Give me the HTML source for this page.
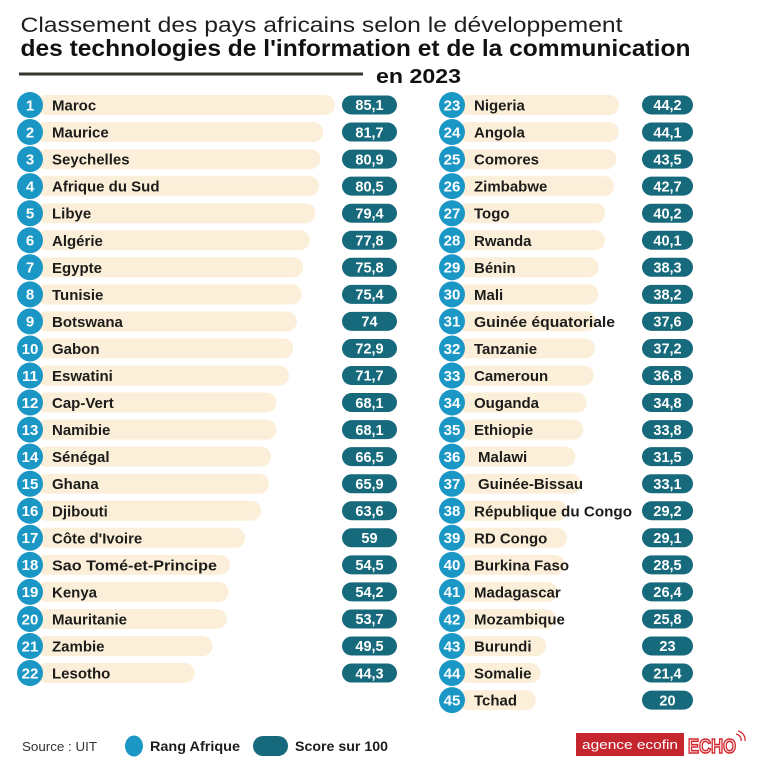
<!DOCTYPE html>
<html><head><meta charset="utf-8"><style>
html,body{margin:0;padding:0;background:#fff;}
svg{display:block;font-family:"Liberation Sans",Arial,sans-serif;}
.b{fill:#fcefd9}
.c{fill:#1b97c6}
.p{fill:#166a7b}
.r{fill:#fff;font-weight:bold;font-size:15px;text-anchor:middle}
.n{fill:#1c1c1a;font-weight:bold;font-size:15px}
.s{fill:#fff;font-weight:bold;font-size:14.5px;text-anchor:middle}
</style></head><body>
<svg width="768" height="768" viewBox="0 0 768 768" xmlns="http://www.w3.org/2000/svg">
<rect width="768" height="768" fill="#fff"/>
<text x="20.5" y="32" font-size="21.5" fill="#1e1e1e" textLength="602" lengthAdjust="spacingAndGlyphs">Classement des pays africains selon le développement</text>
<text x="20.5" y="56" font-size="23.5" font-weight="bold" fill="#111" textLength="670" lengthAdjust="spacingAndGlyphs">des technologies de l'information et de la communication</text>
<rect x="19" y="72.5" width="344" height="3" fill="#35352e"/>
<text x="376" y="83" font-size="20.5" font-weight="bold" fill="#111" textLength="85" lengthAdjust="spacingAndGlyphs">en 2023</text>

<!-- Left column -->
<g transform="translate(0,105)"><rect x="36" y="-10" width="299" height="20" rx="10" class="b"/><circle cx="30" r="13" class="c"/><text x="30" y="5.3" class="r">1</text><text x="52" y="5.5" class="n">Maroc</text><rect x="342" y="-9.5" width="55" height="19" rx="9.5" class="p"/><text x="369.5" y="5.2" class="s">85,1</text></g>
<g transform="translate(0,132.05)"><rect x="36" y="-10" width="287.3" height="20" rx="10" class="b"/><circle cx="30" r="13" class="c"/><text x="30" y="5.3" class="r">2</text><text x="52" y="5.5" class="n">Maurice</text><rect x="342" y="-9.5" width="55" height="19" rx="9.5" class="p"/><text x="369.5" y="5.2" class="s">81,7</text></g>
<g transform="translate(0,159.1)"><rect x="36" y="-10" width="284.6" height="20" rx="10" class="b"/><circle cx="30" r="13" class="c"/><text x="30" y="5.3" class="r">3</text><text x="52" y="5.5" class="n">Seychelles</text><rect x="342" y="-9.5" width="55" height="19" rx="9.5" class="p"/><text x="369.5" y="5.2" class="s">80,9</text></g>
<g transform="translate(0,186.15)"><rect x="36" y="-10" width="283.2" height="20" rx="10" class="b"/><circle cx="30" r="13" class="c"/><text x="30" y="5.3" class="r">4</text><text x="52" y="5.5" class="n">Afrique du Sud</text><rect x="342" y="-9.5" width="55" height="19" rx="9.5" class="p"/><text x="369.5" y="5.2" class="s">80,5</text></g>
<g transform="translate(0,213.2)"><rect x="36" y="-10" width="279.4" height="20" rx="10" class="b"/><circle cx="30" r="13" class="c"/><text x="30" y="5.3" class="r">5</text><text x="52" y="5.5" class="n">Libye</text><rect x="342" y="-9.5" width="55" height="19" rx="9.5" class="p"/><text x="369.5" y="5.2" class="s">79,4</text></g>
<g transform="translate(0,240.25)"><rect x="36" y="-10" width="273.9" height="20" rx="10" class="b"/><circle cx="30" r="13" class="c"/><text x="30" y="5.3" class="r">6</text><text x="52" y="5.5" class="n">Algérie</text><rect x="342" y="-9.5" width="55" height="19" rx="9.5" class="p"/><text x="369.5" y="5.2" class="s">77,8</text></g>
<g transform="translate(0,267.3)"><rect x="36" y="-10" width="267.1" height="20" rx="10" class="b"/><circle cx="30" r="13" class="c"/><text x="30" y="5.3" class="r">7</text><text x="52" y="5.5" class="n">Egypte</text><rect x="342" y="-9.5" width="55" height="19" rx="9.5" class="p"/><text x="369.5" y="5.2" class="s">75,8</text></g>
<g transform="translate(0,294.35)"><rect x="36" y="-10" width="265.7" height="20" rx="10" class="b"/><circle cx="30" r="13" class="c"/><text x="30" y="5.3" class="r">8</text><text x="52" y="5.5" class="n">Tunisie</text><rect x="342" y="-9.5" width="55" height="19" rx="9.5" class="p"/><text x="369.5" y="5.2" class="s">75,4</text></g>
<g transform="translate(0,321.4)"><rect x="36" y="-10" width="260.9" height="20" rx="10" class="b"/><circle cx="30" r="13" class="c"/><text x="30" y="5.3" class="r">9</text><text x="52" y="5.5" class="n">Botswana</text><rect x="342" y="-9.5" width="55" height="19" rx="9.5" class="p"/><text x="369.5" y="5.2" class="s">74</text></g>
<g transform="translate(0,348.45)"><rect x="36" y="-10" width="257.1" height="20" rx="10" class="b"/><circle cx="30" r="13" class="c"/><text x="30" y="5.3" class="r">10</text><text x="52" y="5.5" class="n">Gabon</text><rect x="342" y="-9.5" width="55" height="19" rx="9.5" class="p"/><text x="369.5" y="5.2" class="s">72,9</text></g>
<g transform="translate(0,375.5)"><rect x="36" y="-10" width="252.9" height="20" rx="10" class="b"/><circle cx="30" r="13" class="c"/><text x="30" y="5.3" class="r">11</text><text x="52" y="5.5" class="n">Eswatini</text><rect x="342" y="-9.5" width="55" height="19" rx="9.5" class="p"/><text x="369.5" y="5.2" class="s">71,7</text></g>
<g transform="translate(0,402.55)"><rect x="36" y="-10" width="240.6" height="20" rx="10" class="b"/><circle cx="30" r="13" class="c"/><text x="30" y="5.3" class="r">12</text><text x="52" y="5.5" class="n">Cap-Vert</text><rect x="342" y="-9.5" width="55" height="19" rx="9.5" class="p"/><text x="369.5" y="5.2" class="s">68,1</text></g>
<g transform="translate(0,429.6)"><rect x="36" y="-10" width="240.6" height="20" rx="10" class="b"/><circle cx="30" r="13" class="c"/><text x="30" y="5.3" class="r">13</text><text x="52" y="5.5" class="n">Namibie</text><rect x="342" y="-9.5" width="55" height="19" rx="9.5" class="p"/><text x="369.5" y="5.2" class="s">68,1</text></g>
<g transform="translate(0,456.65)"><rect x="36" y="-10" width="235.1" height="20" rx="10" class="b"/><circle cx="30" r="13" class="c"/><text x="30" y="5.3" class="r">14</text><text x="52" y="5.5" class="n">Sénégal</text><rect x="342" y="-9.5" width="55" height="19" rx="9.5" class="p"/><text x="369.5" y="5.2" class="s">66,5</text></g>
<g transform="translate(0,483.7)"><rect x="36" y="-10" width="233" height="20" rx="10" class="b"/><circle cx="30" r="13" class="c"/><text x="30" y="5.3" class="r">15</text><text x="52" y="5.5" class="n">Ghana</text><rect x="342" y="-9.5" width="55" height="19" rx="9.5" class="p"/><text x="369.5" y="5.2" class="s">65,9</text></g>
<g transform="translate(0,510.75)"><rect x="36" y="-10" width="225.1" height="20" rx="10" class="b"/><circle cx="30" r="13" class="c"/><text x="30" y="5.3" class="r">16</text><text x="52" y="5.5" class="n">Djibouti</text><rect x="342" y="-9.5" width="55" height="19" rx="9.5" class="p"/><text x="369.5" y="5.2" class="s">63,6</text></g>
<g transform="translate(0,537.8)"><rect x="36" y="-10" width="209.3" height="20" rx="10" class="b"/><circle cx="30" r="13" class="c"/><text x="30" y="5.3" class="r">17</text><text x="52" y="5.5" class="n">Côte d'Ivoire</text><rect x="342" y="-9.5" width="55" height="19" rx="9.5" class="p"/><text x="369.5" y="5.2" class="s">59</text></g>
<g transform="translate(0,564.85)"><rect x="36" y="-10" width="193.8" height="20" rx="10" class="b"/><circle cx="30" r="13" class="c"/><text x="30" y="5.3" class="r">18</text><text x="52" y="5.5" class="n" textLength="165" lengthAdjust="spacingAndGlyphs">Sao Tomé-et-Principe</text><rect x="342" y="-9.5" width="55" height="19" rx="9.5" class="p"/><text x="369.5" y="5.2" class="s">54,5</text></g>
<g transform="translate(0,591.9)"><rect x="36" y="-10" width="192.7" height="20" rx="10" class="b"/><circle cx="30" r="13" class="c"/><text x="30" y="5.3" class="r">19</text><text x="52" y="5.5" class="n">Kenya</text><rect x="342" y="-9.5" width="55" height="19" rx="9.5" class="p"/><text x="369.5" y="5.2" class="s">54,2</text></g>
<g transform="translate(0,618.95)"><rect x="36" y="-10" width="191" height="20" rx="10" class="b"/><circle cx="30" r="13" class="c"/><text x="30" y="5.3" class="r">20</text><text x="52" y="5.5" class="n">Mauritanie</text><rect x="342" y="-9.5" width="55" height="19" rx="9.5" class="p"/><text x="369.5" y="5.2" class="s">53,7</text></g>
<g transform="translate(0,646)"><rect x="36" y="-10" width="176.6" height="20" rx="10" class="b"/><circle cx="30" r="13" class="c"/><text x="30" y="5.3" class="r">21</text><text x="52" y="5.5" class="n">Zambie</text><rect x="342" y="-9.5" width="55" height="19" rx="9.5" class="p"/><text x="369.5" y="5.2" class="s">49,5</text></g>
<g transform="translate(0,673.05)"><rect x="36" y="-10" width="158.7" height="20" rx="10" class="b"/><circle cx="30" r="13" class="c"/><text x="30" y="5.3" class="r">22</text><text x="52" y="5.5" class="n">Lesotho</text><rect x="342" y="-9.5" width="55" height="19" rx="9.5" class="p"/><text x="369.5" y="5.2" class="s">44,3</text></g>

<!-- Right column -->
<g transform="translate(0,105)"><rect x="458" y="-10" width="161" height="20" rx="10" class="b"/><circle cx="452" r="13" class="c"/><text x="452" y="5.3" class="r">23</text><text x="474" y="5.5" class="n">Nigeria</text><rect x="642" y="-9.5" width="51" height="19" rx="9.5" class="p"/><text x="667.5" y="5.2" class="s">44,2</text></g>
<g transform="translate(0,132.05)"><rect x="458" y="-10" width="160.7" height="20" rx="10" class="b"/><circle cx="452" r="13" class="c"/><text x="452" y="5.3" class="r">24</text><text x="474" y="5.5" class="n">Angola</text><rect x="642" y="-9.5" width="51" height="19" rx="9.5" class="p"/><text x="667.5" y="5.2" class="s">44,1</text></g>
<g transform="translate(0,159.1)"><rect x="458" y="-10" width="158.6" height="20" rx="10" class="b"/><circle cx="452" r="13" class="c"/><text x="452" y="5.3" class="r">25</text><text x="474" y="5.5" class="n">Comores</text><rect x="642" y="-9.5" width="51" height="19" rx="9.5" class="p"/><text x="667.5" y="5.2" class="s">43,5</text></g>
<g transform="translate(0,186.15)"><rect x="458" y="-10" width="155.9" height="20" rx="10" class="b"/><circle cx="452" r="13" class="c"/><text x="452" y="5.3" class="r">26</text><text x="474" y="5.5" class="n">Zimbabwe</text><rect x="642" y="-9.5" width="51" height="19" rx="9.5" class="p"/><text x="667.5" y="5.2" class="s">42,7</text></g>
<g transform="translate(0,213.2)"><rect x="458" y="-10" width="147.3" height="20" rx="10" class="b"/><circle cx="452" r="13" class="c"/><text x="452" y="5.3" class="r">27</text><text x="474" y="5.5" class="n">Togo</text><rect x="642" y="-9.5" width="51" height="19" rx="9.5" class="p"/><text x="667.5" y="5.2" class="s">40,2</text></g>
<g transform="translate(0,240.25)"><rect x="458" y="-10" width="146.9" height="20" rx="10" class="b"/><circle cx="452" r="13" class="c"/><text x="452" y="5.3" class="r">28</text><text x="474" y="5.5" class="n">Rwanda</text><rect x="642" y="-9.5" width="51" height="19" rx="9.5" class="p"/><text x="667.5" y="5.2" class="s">40,1</text></g>
<g transform="translate(0,267.3)"><rect x="458" y="-10" width="140.8" height="20" rx="10" class="b"/><circle cx="452" r="13" class="c"/><text x="452" y="5.3" class="r">29</text><text x="474" y="5.5" class="n">Bénin</text><rect x="642" y="-9.5" width="51" height="19" rx="9.5" class="p"/><text x="667.5" y="5.2" class="s">38,3</text></g>
<g transform="translate(0,294.35)"><rect x="458" y="-10" width="140.4" height="20" rx="10" class="b"/><circle cx="452" r="13" class="c"/><text x="452" y="5.3" class="r">30</text><text x="474" y="5.5" class="n">Mali</text><rect x="642" y="-9.5" width="51" height="19" rx="9.5" class="p"/><text x="667.5" y="5.2" class="s">38,2</text></g>
<g transform="translate(0,321.4)"><rect x="458" y="-10" width="138.3" height="20" rx="10" class="b"/><circle cx="452" r="13" class="c"/><text x="452" y="5.3" class="r">31</text><text x="474" y="5.5" class="n" textLength="141" lengthAdjust="spacingAndGlyphs">Guinée équatoriale</text><rect x="642" y="-9.5" width="51" height="19" rx="9.5" class="p"/><text x="667.5" y="5.2" class="s">37,6</text></g>
<g transform="translate(0,348.45)"><rect x="458" y="-10" width="137" height="20" rx="10" class="b"/><circle cx="452" r="13" class="c"/><text x="452" y="5.3" class="r">32</text><text x="474" y="5.5" class="n">Tanzanie</text><rect x="642" y="-9.5" width="51" height="19" rx="9.5" class="p"/><text x="667.5" y="5.2" class="s">37,2</text></g>
<g transform="translate(0,375.5)"><rect x="458" y="-10" width="135.6" height="20" rx="10" class="b"/><circle cx="452" r="13" class="c"/><text x="452" y="5.3" class="r">33</text><text x="474" y="5.5" class="n">Cameroun</text><rect x="642" y="-9.5" width="51" height="19" rx="9.5" class="p"/><text x="667.5" y="5.2" class="s">36,8</text></g>
<g transform="translate(0,402.55)"><rect x="458" y="-10" width="128.7" height="20" rx="10" class="b"/><circle cx="452" r="13" class="c"/><text x="452" y="5.3" class="r">34</text><text x="474" y="5.5" class="n">Ouganda</text><rect x="642" y="-9.5" width="51" height="19" rx="9.5" class="p"/><text x="667.5" y="5.2" class="s">34,8</text></g>
<g transform="translate(0,429.6)"><rect x="458" y="-10" width="125.3" height="20" rx="10" class="b"/><circle cx="452" r="13" class="c"/><text x="452" y="5.3" class="r">35</text><text x="474" y="5.5" class="n">Ethiopie</text><rect x="642" y="-9.5" width="51" height="19" rx="9.5" class="p"/><text x="667.5" y="5.2" class="s">33,8</text></g>
<g transform="translate(0,456.65)"><rect x="458" y="-10" width="117.4" height="20" rx="10" class="b"/><circle cx="452" r="13" class="c"/><text x="452" y="5.3" class="r">36</text><text x="478" y="5.5" class="n">Malawi</text><rect x="642" y="-9.5" width="51" height="19" rx="9.5" class="p"/><text x="667.5" y="5.2" class="s">31,5</text></g>
<g transform="translate(0,483.7)"><rect x="458" y="-10" width="122.9" height="20" rx="10" class="b"/><circle cx="452" r="13" class="c"/><text x="452" y="5.3" class="r">37</text><text x="478" y="5.5" class="n">Guinée-Bissau</text><rect x="642" y="-9.5" width="51" height="19" rx="9.5" class="p"/><text x="667.5" y="5.2" class="s">33,1</text></g>
<g transform="translate(0,510.75)"><rect x="458" y="-10" width="109.4" height="20" rx="10" class="b"/><circle cx="452" r="13" class="c"/><text x="452" y="5.3" class="r">38</text><text x="474" y="5.5" class="n" textLength="158" lengthAdjust="spacingAndGlyphs">République du Congo</text><rect x="642" y="-9.5" width="51" height="19" rx="9.5" class="p"/><text x="667.5" y="5.2" class="s">29,2</text></g>
<g transform="translate(0,537.8)"><rect x="458" y="-10" width="109.1" height="20" rx="10" class="b"/><circle cx="452" r="13" class="c"/><text x="452" y="5.3" class="r">39</text><text x="474" y="5.5" class="n">RD Congo</text><rect x="642" y="-9.5" width="51" height="19" rx="9.5" class="p"/><text x="667.5" y="5.2" class="s">29,1</text></g>
<g transform="translate(0,564.85)"><rect x="458" y="-10" width="107" height="20" rx="10" class="b"/><circle cx="452" r="13" class="c"/><text x="452" y="5.3" class="r">40</text><text x="474" y="5.5" class="n">Burkina Faso</text><rect x="642" y="-9.5" width="51" height="19" rx="9.5" class="p"/><text x="667.5" y="5.2" class="s">28,5</text></g>
<g transform="translate(0,591.9)"><rect x="458" y="-10" width="99.8" height="20" rx="10" class="b"/><circle cx="452" r="13" class="c"/><text x="452" y="5.3" class="r">41</text><text x="474" y="5.5" class="n">Madagascar</text><rect x="642" y="-9.5" width="51" height="19" rx="9.5" class="p"/><text x="667.5" y="5.2" class="s">26,4</text></g>
<g transform="translate(0,618.95)"><rect x="458" y="-10" width="97.8" height="20" rx="10" class="b"/><circle cx="452" r="13" class="c"/><text x="452" y="5.3" class="r">42</text><text x="474" y="5.5" class="n">Mozambique</text><rect x="642" y="-9.5" width="51" height="19" rx="9.5" class="p"/><text x="667.5" y="5.2" class="s">25,8</text></g>
<g transform="translate(0,646)"><rect x="458" y="-10" width="88.1" height="20" rx="10" class="b"/><circle cx="452" r="13" class="c"/><text x="452" y="5.3" class="r">43</text><text x="474" y="5.5" class="n">Burundi</text><rect x="642" y="-9.5" width="51" height="19" rx="9.5" class="p"/><text x="667.5" y="5.2" class="s">23</text></g>
<g transform="translate(0,673.05)"><rect x="458" y="-10" width="82.6" height="20" rx="10" class="b"/><circle cx="452" r="13" class="c"/><text x="452" y="5.3" class="r">44</text><text x="474" y="5.5" class="n">Somalie</text><rect x="642" y="-9.5" width="51" height="19" rx="9.5" class="p"/><text x="667.5" y="5.2" class="s">21,4</text></g>
<g transform="translate(0,700.1)"><rect x="458" y="-10" width="77.8" height="20" rx="10" class="b"/><circle cx="452" r="13" class="c"/><text x="452" y="5.3" class="r">45</text><text x="474" y="5.5" class="n">Tchad</text><rect x="642" y="-9.5" width="51" height="19" rx="9.5" class="p"/><text x="667.5" y="5.2" class="s">20</text></g>

<!-- Footer legend -->
<text x="22" y="751" font-size="13" fill="#333" textLength="75" lengthAdjust="spacingAndGlyphs">Source : UIT</text>
<ellipse cx="134" cy="746" rx="9" ry="10.5" class="c"/>
<text x="150" y="751" font-size="13.5" font-weight="bold" fill="#1c1c1a" textLength="90" lengthAdjust="spacingAndGlyphs">Rang Afrique</text>
<rect x="253" y="736" width="35" height="20" rx="10" class="p"/>
<text x="295" y="751" font-size="13.5" font-weight="bold" fill="#1c1c1a" textLength="93" lengthAdjust="spacingAndGlyphs">Score sur 100</text>

<!-- Logo -->
<rect x="576" y="733" width="108" height="23" fill="#c5252c"/>
<text x="582" y="749" font-size="13" fill="#fff" textLength="96" lengthAdjust="spacingAndGlyphs">agence ecofin</text>
<text x="688" y="753" font-size="20" font-weight="bold" fill="#fff" stroke="#d42a31" stroke-width="1.6" textLength="48" lengthAdjust="spacingAndGlyphs">ECHO</text>
<path d="M736 734 a6 6 0 0 1 5 7" fill="none" stroke="#d42a31" stroke-width="1.3"/>
<path d="M738 731 a9 9 0 0 1 7 10" fill="none" stroke="#d42a31" stroke-width="1.3"/>
</svg>
</body></html>
